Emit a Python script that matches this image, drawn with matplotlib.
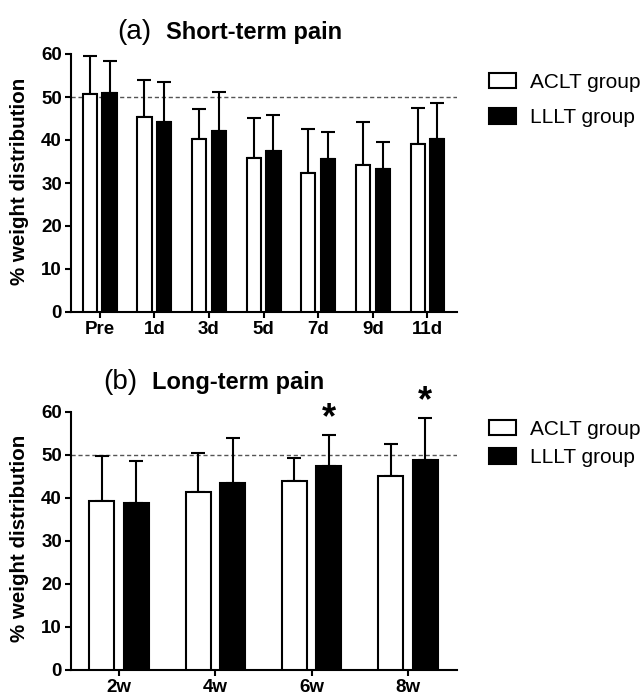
import numpy as np
import matplotlib
matplotlib.use('Agg')
import matplotlib.pyplot as plt
from matplotlib.patches import Patch

# short-term data (mean and upper SD)
short_labels = ['Pre', '1d', '3d', '5d', '7d', '9d', '11d']
short_aclt = [50.6, 45.3, 40.3, 35.9, 32.4, 34.3, 39.0]
short_aclt_err = [8.9, 8.6, 6.8, 9.2, 10.2, 9.9, 8.4]
short_lllt = [51.0, 44.3, 42.1, 37.4, 35.6, 33.3, 40.3]
short_lllt_err = [7.3, 9.3, 9.0, 8.3, 6.3, 6.2, 8.2]

# long-term data
long_labels = ['2w', '4w', '6w', '8w']
long_aclt = [39.3, 41.3, 44.0, 45.1]
long_aclt_err = [10.4, 9.2, 5.3, 7.3]
long_lllt = [38.9, 43.4, 47.4, 48.8]
long_lllt_err = [9.7, 10.4, 7.2, 9.8]
long_lllt_sig = [False, False, True, True]

group_names = ['ACLT group', 'LLLT group']

FONT = ['Liberation Sans', 'DejaVu Sans']

W, H = 644, 695
fig = plt.figure(figsize=(W / 100, H / 100), dpi=100)


def ax_rect(left, right, top, bottom):
    return [left / W, 1 - bottom / H, (right - left) / W, (bottom - top) / H]


def draw_panel(ax, labels, aclt, aclt_err, lllt, lllt_err, xlim, sig=None):
    x = np.arange(len(labels))
    off, bw = 0.18, 0.26
    ax.axhline(50, color='#555555', lw=1.0, ls=(0, (3, 2)), zorder=1)
    ax.bar(x - off, aclt, bw, color='white', edgecolor='black', lw=1.5, zorder=3)
    ax.bar(x + off, lllt, bw, color='black', edgecolor='black', lw=1.5, zorder=3)
    for xs, m, e in [(x - off, aclt, aclt_err), (x + off, lllt, lllt_err)]:
        ax.errorbar(xs, m, yerr=[np.zeros(len(e)), e], fmt='none', ecolor='black',
                    elinewidth=1.5, capsize=5, capthick=1.5, zorder=2)
    if sig is not None:
        for i, s in enumerate(sig):
            if s:
                ax.text(x[i] + off, lllt[i] + lllt_err[i] + 3.8, '*', ha='center', va='center',
                        fontsize=26, fontweight='bold', family=FONT, clip_on=False)
    ax.set_xlim(*xlim)
    ax.set_ylim(0, 60)
    ax.set_yticks(range(0, 61, 10))
    ax.set_xticks(x)
    ax.set_xticklabels(labels)
    for side in ['top', 'right']:
        ax.spines[side].set_visible(False)
    for side in ['left', 'bottom']:
        ax.spines[side].set_linewidth(1.5)
    ax.tick_params(direction='out', length=4.5, width=1.5, pad=2)
    for lab in ax.get_xticklabels() + ax.get_yticklabels():
        lab.set_family(FONT)
        lab.set_fontweight('bold')
        lab.set_fontsize(13.5)
    ax.set_ylabel('% weight distribution', fontsize=14.8, fontweight='bold', family=FONT)
    ax.yaxis.set_label_coords(-0.108, 0.508)


ax1 = fig.add_axes(ax_rect(71, 457, 54, 312))
draw_panel(ax1, short_labels, short_aclt, short_aclt_err, short_lllt, short_lllt_err, (-0.525, 6.54))

ax2 = fig.add_axes(ax_rect(71, 457, 411.7, 670))
draw_panel(ax2, long_labels, long_aclt, long_aclt_err, long_lllt, long_lllt_err, (-0.5, 3.51), long_lllt_sig)

# titles
fig.text(117 / W, 1 - 39 / H, '(a)', fontsize=20, family=FONT, va='baseline', ha='left')
fig.text(166 / W, 1 - 39 / H, 'Short-term pain', fontsize=17, fontweight='bold', family=FONT,
         va='baseline', ha='left')
fig.text(103 / W, 1 - 389 / H, '(b)', fontsize=20, family=FONT, va='baseline', ha='left')
fig.text(152 / W, 1 - 389 / H, 'Long-term pain', fontsize=17, fontweight='bold', family=FONT,
         va='baseline', ha='left')

# legends
handles = [Patch(facecolor='white', edgecolor='black', lw=1.5),
           Patch(facecolor='black', edgecolor='black', lw=1.5)]
for yc, spacing in [(100, 0.8), (443.5, 0.45)]:
    fig.legend(handles, group_names, loc='center left', bbox_to_anchor=(489 / W, 1 - yc / H),
               frameon=False, borderpad=0, borderaxespad=0, handlelength=1.3, handleheight=0.75,
               handletextpad=0.65, labelspacing=spacing,
               prop={'family': FONT, 'size': 15})

fig.savefig('out.png', dpi=100)
